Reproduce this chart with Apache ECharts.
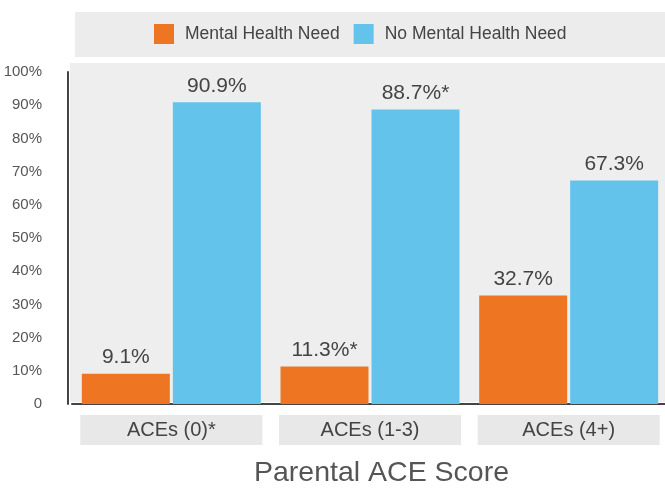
<!DOCTYPE html>
<html>
<head>
<meta charset="utf-8">
<script src="https://cdn.jsdelivr.net/npm/echarts@6/dist/echarts.min.js"></script>
<style>
  html, body { margin: 0; padding: 0; background: #fff; }
  #chart { width: 665px; height: 489px; }
</style>
</head>
<body>
<div id="chart"></div>
<script>
// Data
const categories = ['ACEs (0)*', 'ACEs (1-3)', 'ACEs (4+)'];
const needValues = [9.1, 11.3, 32.7];
const noNeedValues = [90.9, 88.7, 67.3];
const needLabels = ['9.1%', '11.3%*', '32.7%'];
const noNeedLabels = ['90.9%', '88.7%*', '67.3%'];
const yTickLabels = ['0', '10%', '20%', '30%', '40%', '50%', '60%', '70%', '80%', '90%', '100%'];

const FONT = '"Liberation Sans", Arial, sans-serif';

const chart = echarts.init(document.getElementById('chart'));

var option = {
    animation: false,
    textStyle: { fontFamily: FONT },
    title: {
        text: 'Parental ACE Score',
        left: 254,
        top: 459,
        padding: 0,
        textStyle: { fontFamily: FONT, fontSize: 28.5, fontWeight: 'normal', color: '#555' }
    },
    graphic: {
        elements: [
            // legend band
            { type: 'rect', z: -1, shape: { x: 75, y: 12, width: 590, height: 45 }, style: { fill: '#ececec' } },
            // plot background
            { type: 'rect', z: -1, shape: { x: 70, y: 63, width: 595, height: 339 }, style: { fill: '#eeeeee' } }
        ]
    },
    legend: {
        left: 154,
        top: 24,
        padding: 0,
        itemWidth: 20,
        itemHeight: 20,
        itemGap: 14,
        icon: 'rect',
        textStyle: { fontFamily: FONT, fontSize: 17.5, color: '#444', padding: [0, 0, 0, 6] },
        data: ['Mental Health Need', 'No Mental Health Need']
    },
    grid: {
        left: 72,
        right: -3,
        top: 72,
        bottom: 85,
        outerBoundsMode: 'none'
    },
    xAxis: {
        type: 'category',
        data: categories,
        offset: 3,
        axisLine: { lineStyle: { color: '#444', width: 2 } },
        axisTick: { show: false },
        axisLabel: {
            margin: 8,
            fontFamily: FONT,
            fontSize: 20,
            color: '#444',
            backgroundColor: '#e8e8e8',
            width: 182,
            lineHeight: 20,
            padding: [5, 0],
            align: 'center'
        }
    },
    yAxis: {
        type: 'value',
        min: 0,
        max: 100,
        interval: 10,
        offset: 4,
        axisLine: { show: true, lineStyle: { color: '#444', width: 2 } },
        axisTick: { show: false },
        splitLine: { show: false },
        axisLabel: {
            margin: 26,
            fontFamily: FONT,
            fontSize: 15,
            color: '#555',
            formatter: function (v, i) { return yTickLabels[i]; }
        }
    },
    series: [
        {
            name: 'Mental Health Need',
            type: 'bar',
            data: needValues,
            barWidth: 88,
            barGap: '3.4%',
            itemStyle: { color: '#EE7623' },
            label: {
                show: true,
                position: 'top',
                distance: 6,
                fontFamily: FONT,
                fontSize: 21,
                color: '#444',
                formatter: function (p) { return needLabels[p.dataIndex]; }
            }
        },
        {
            name: 'No Mental Health Need',
            type: 'bar',
            data: noNeedValues,
            barWidth: 88,
            itemStyle: { color: '#63C3EA' },
            label: {
                show: true,
                position: 'top',
                distance: 6,
                fontFamily: FONT,
                fontSize: 21,
                color: '#444',
                formatter: function (p) { return noNeedLabels[p.dataIndex]; }
            }
        }
    ]
};

chart.setOption(option);
</script>
</body>
</html>
